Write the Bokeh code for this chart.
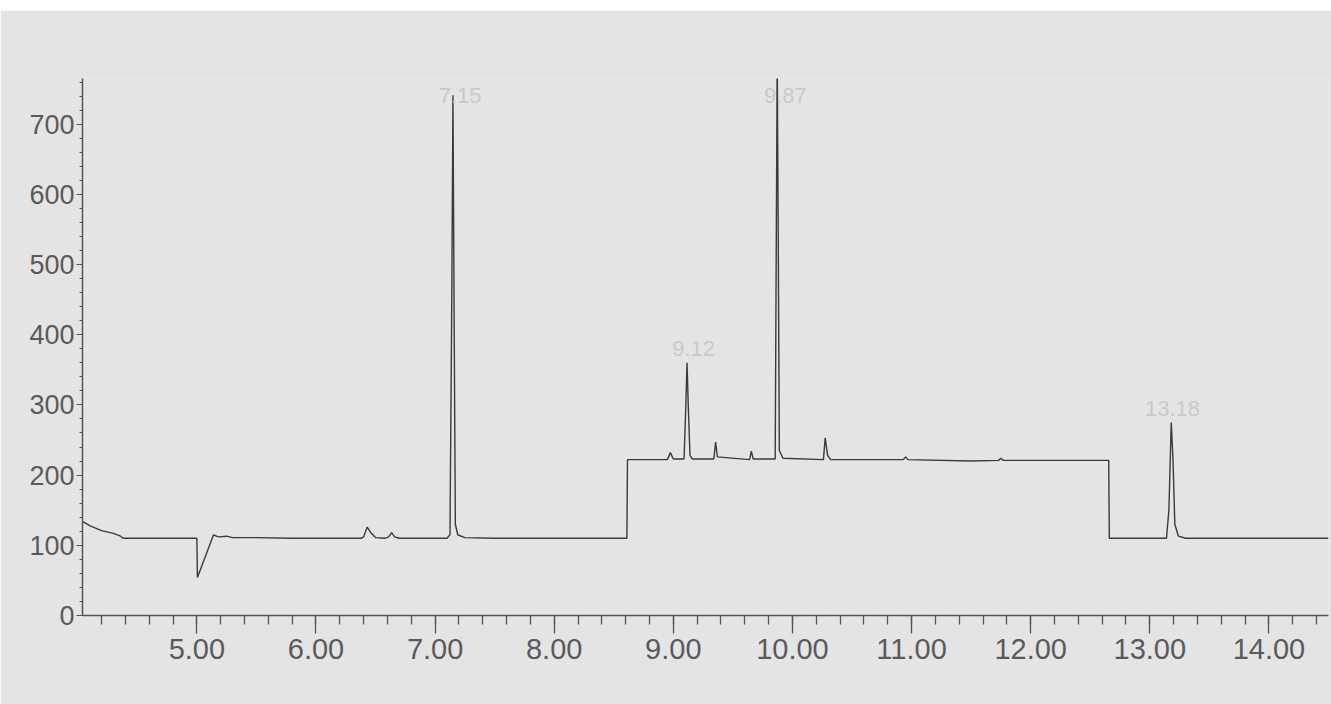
from bokeh.plotting import figure
from bokeh.models import SingleIntervalTicker, NumeralTickFormatter, Div, ColumnDataSource
from bokeh.layouts import column
from bokeh.core.properties import value
from bokeh.embed import file_html
from bokeh.resources import INLINE

# ---- data ----
time_min = [4.04, 4.10, 4.20, 4.30, 4.36, 4.38, 4.99, 5.00, 5.005, 5.14, 5.18, 5.25, 5.30,
            5.50, 5.80, 6.38, 6.40, 6.43, 6.46, 6.50, 6.58, 6.61, 6.635, 6.66, 6.70,
            7.10, 7.125, 7.14, 7.15, 7.16, 7.17, 7.19, 7.25, 7.50, 8.61, 8.615,
            8.95, 8.975, 9.00, 9.09, 9.105, 9.115, 9.125, 9.14, 9.16, 9.34, 9.355, 9.37,
            9.64, 9.655, 9.67, 9.855, 9.865, 9.872, 9.88, 9.89, 9.92, 10.26, 10.275,
            10.295, 10.32, 10.93, 10.95, 10.97, 11.50, 11.73, 11.75, 11.77, 12.00,
            12.655, 12.66, 13.14, 13.16, 13.18, 13.195, 13.21, 13.24, 13.30, 14.50]
abundance = [134, 128, 121, 117, 113, 110, 110, 110, 54, 115, 112, 113, 111,
             111, 110, 110, 112, 126, 118, 111, 110, 112, 118, 112, 110,
             110, 115, 450, 741, 420, 130, 115, 111, 110, 110, 222,
             222, 232, 223, 223, 300, 360, 300, 228, 223, 223, 247, 226,
             222, 234, 223, 223, 560, 800, 560, 235, 224, 222, 253,
             228, 222, 222, 226, 222, 220, 221, 224, 221, 221,
             221, 110, 110, 150, 275, 220, 130, 113, 110, 110]

peak_labels = ["7.15", "9.87", "9.12", "13.18"]
label_x = [7.21, 9.94, 9.17, 13.19]
label_y = [741, 741, 381, 295]

x_start, x_end = 4.04, 14.50
y_start, y_end = 0, 765

BG = "#e4e4e4"
AXC = "#555555"
FONT = "Liberation Sans"

p = figure(width=1331, height=694, output_backend="svg", toolbar_location=None,
           x_range=(x_start, x_end), y_range=(y_start, y_end),
           min_border_left=82, min_border_right=3, min_border_top=68, min_border_bottom=89,
           margin=0)
p.background_fill_color = BG
p.border_fill_color = BG
p.outline_line_color = None
p.grid.visible = False

p.line(time_min, abundance, line_color="#3a3a3a", line_width=1.4)

src = ColumnDataSource(dict(x=label_x, y=label_y, t=peak_labels))
p.text(x="x", y="y", text="t", source=src, text_align="center", text_baseline="middle",
       text_font_size="22px", text_color="#c9c9c9", text_font=value(FONT))

# x axis
xa = p.xaxis[0]
xa.ticker = SingleIntervalTicker(interval=1, num_minor_ticks=5)
xa.formatter = NumeralTickFormatter(format="0.00")
xa.axis_line_color = AXC
xa.axis_line_width = 1.5
xa.major_tick_line_color = AXC
xa.minor_tick_line_color = AXC
xa.major_tick_line_width = 1.3
xa.minor_tick_line_width = 1.3
xa.major_tick_in = 0
xa.major_tick_out = 18
xa.minor_tick_in = 0
xa.minor_tick_out = 9
xa.major_label_standoff = 5
xa.major_label_text_font = FONT
xa.major_label_text_font_size = "29px"
xa.major_label_text_color = "#5a5a5a"

# y axis
ya = p.yaxis[0]
ya.ticker = SingleIntervalTicker(interval=100, num_minor_ticks=5)
ya.axis_line_color = AXC
ya.axis_line_width = 1.5
ya.major_tick_line_color = AXC
ya.minor_tick_line_color = AXC
ya.major_tick_in = 0
ya.major_tick_out = 6
ya.minor_tick_in = 0
ya.minor_tick_out = 3
ya.major_label_standoff = 2
ya.major_label_text_font = FONT
ya.major_label_text_font_size = "27px"
ya.major_label_text_color = "#5a5a5a"

top = Div(text="", width=1331, height=10, margin=0, styles={"background-color": "white"})
layout = column(top, p, spacing=0, margin=0)

open("out.html", "w").write(file_html(layout, INLINE))
